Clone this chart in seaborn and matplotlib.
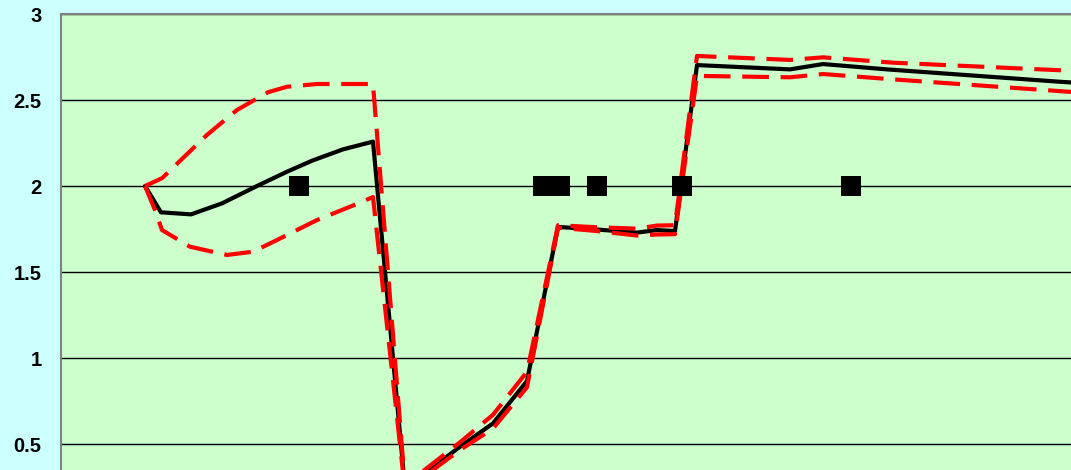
import matplotlib
matplotlib.use('Agg')
import matplotlib.pyplot as plt
import seaborn as sns
import numpy as np

# --- data (x in arbitrary units, y as plotted) ---
mid_x = [84, 100, 130, 161, 196, 226, 251, 282, 312, 344, 399, 432, 466, 497,
         536, 576, 596, 614, 636, 729, 762, 826, 999, 1010]
mid_y = [2.000, 1.847, 1.835, 1.899, 2.000, 2.083, 2.147, 2.213, 2.258, 0.244,
         0.484, 0.620, 0.866, 1.762, 1.747, 1.729, 1.744, 1.738, 2.703, 2.678,
         2.709, 2.678, 2.606, 2.602]

upper_x = [84, 101, 146, 176, 207, 226, 256, 312, 344, 399, 432, 466, 497,
           536, 576, 596, 614, 636, 729, 762, 832, 1010]
upper_y = [2.000, 2.045, 2.297, 2.442, 2.545, 2.577, 2.593, 2.593, 0.260,
           0.510, 0.670, 0.920, 1.772, 1.760, 1.752, 1.770, 1.772, 2.756,
           2.733, 2.748, 2.717, 2.670]

lower_x = [84, 94, 101, 129, 166, 192, 216, 256, 299, 312, 344, 399, 432, 466,
           497, 536, 576, 596, 614, 636, 729, 762, 832, 1010]
lower_y = [2.000, 1.860, 1.744, 1.647, 1.599, 1.618, 1.686, 1.802, 1.903,
           1.936, 0.230, 0.465, 0.590, 0.830, 1.758, 1.738, 1.712, 1.718,
           1.720, 2.640, 2.632, 2.651, 2.620, 2.547]

obs_x = [238, 482, 491, 499, 536, 621, 790]
obs_y = [2.0, 2.0, 2.0, 2.0, 2.0, 2.0, 2.0]

yticks = [0.5, 1, 1.5, 2, 2.5, 3]
ytick_labels = ['0.5', '1', '1.5', '2', '2.5', '3']

sns.set_style('white')
plt.rcParams['font.family'] = ['Liberation Sans', 'DejaVu Sans']

fig = plt.figure(figsize=(10.71, 4.70), dpi=100)
fig.patch.set_facecolor('#CCFFFF')
ax = fig.add_axes([61 / 1071, 0.0, 1 - 61 / 1071, 1 - 14 / 470])
ax.set_facecolor('#CCFFCC')

sns.lineplot(x=mid_x, y=mid_y, ax=ax, color='black', linewidth=3,
             estimator=None, sort=False, zorder=3)
sns.lineplot(x=upper_x, y=upper_y, ax=ax, color='#FF0000', linewidth=3,
             estimator=None, sort=False, zorder=4)
sns.lineplot(x=lower_x, y=lower_y, ax=ax, color='#FF0000', linewidth=3,
             estimator=None, sort=False, zorder=4)
for ln in ax.lines[1:]:
    ln.set_linestyle((0, (6.4, 2.8)))
sns.scatterplot(x=obs_x, y=obs_y, ax=ax, marker='s', s=190, color='black',
                linewidth=0, zorder=5)

ax.set_xlim(0, 1010)
ax.set_ylim(3 - (470 - 14) / 172, 3)
ax.set_xticks([])
ax.set_yticks(yticks)
ax.set_yticklabels(ytick_labels, fontsize=14.5, fontweight='bold')
ax.tick_params(axis='y', length=0, pad=14, labelcolor='black')

ax.set_axisbelow(True)
ax.yaxis.grid(True, color='black', linewidth=1.0)
ax.xaxis.grid(False)

for side in ['bottom', 'right']:
    ax.spines[side].set_visible(False)
for side in ['left', 'top']:
    ax.spines[side].set_color('#808080')
    ax.spines[side].set_linewidth(1.5)

fig.savefig('out.png', dpi=100, facecolor=fig.get_facecolor())
